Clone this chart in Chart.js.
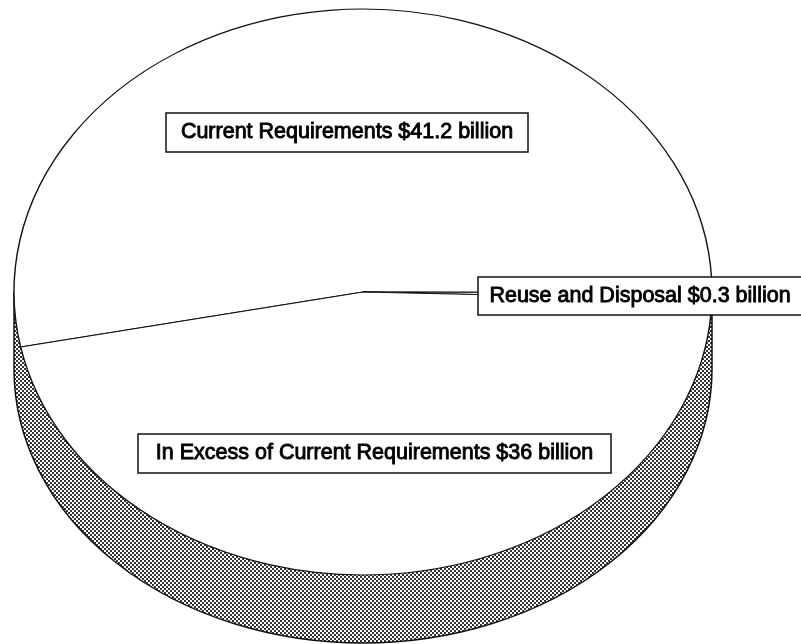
<!DOCTYPE html>
<html>
<head>
<meta charset="utf-8">
<title>Pie</title>
<script src="https://cdn.jsdelivr.net/npm/chart.js@4"></script>
<style>
body { margin: 0; background: #fff; }
canvas { display: block; }
</style>
</head>
<body>
<canvas id="pieChart" width="801" height="644"></canvas>
<script>
var categories = ['Current Requirements', 'Reuse and Disposal', 'In Excess of Current Requirements'];
var values = [41.2, 0.3, 36];
var valueLabels = ['$41.2 billion', '$0.3 billion', '$36 billion'];

// left, top, width, height of the label boxes
var boxes = [[166, 113, 362, 39], [478, 277, 330, 38], [138, 434, 473, 39]];

// the flattened pie and the lower rim of its side wall
var cx = 363, cy = 292, rx = 349, ry = 283;
var rimY = 369, rimRy = 274;
var lineColor = '#111';

function ditherPattern(ctx) {
    var c = document.createElement('canvas');
    c.width = 4;
    c.height = 4;
    var p = c.getContext('2d');
    p.fillStyle = '#fff';
    p.fillRect(0, 0, 4, 4);
    p.fillStyle = '#333';
    p.fillRect(0, 0, 2, 2);
    p.fillRect(2, 2, 2, 2);
    return ctx.createPattern(c, 'repeat');
}

var tiltPlugin = {
    id: 'tilt',
    beforeDatasetsDraw: function(chart) {
        var ctx = chart.ctx;
        var arc = chart.getDatasetMeta(0).data[0];
        // side wall of the pie
        ctx.save();
        ctx.beginPath();
        ctx.moveTo(cx - rx, cy);
        ctx.lineTo(cx - rx, rimY);
        ctx.ellipse(cx, rimY, rx, rimRy, 0, Math.PI, 0, true);
        ctx.lineTo(cx + rx, cy);
        ctx.closePath();
        ctx.fillStyle = ditherPattern(ctx);
        ctx.fill();
        ctx.lineWidth = 1.5;
        ctx.strokeStyle = lineColor;
        ctx.stroke();
        ctx.restore();
        // squash the round pie to the top face
        ctx.save();
        ctx.translate(cx, cy);
        ctx.scale(rx / arc.outerRadius, ry / arc.outerRadius);
        ctx.translate(-arc.x, -arc.y);
    },
    afterDatasetsDraw: function(chart) {
        chart.ctx.restore();
    }
};

var labelPlugin = {
    id: 'boxLabels',
    afterDraw: function(chart) {
        var ctx = chart.ctx;
        ctx.save();
        ctx.font = '21.5px "Liberation Sans"';
        ctx.textBaseline = 'middle';
        ctx.textAlign = 'center';
        for (var i = 0; i < categories.length; i++) {
            var b = boxes[i];
            ctx.fillStyle = '#fff';
            ctx.strokeStyle = lineColor;
            ctx.lineWidth = 1.5;
            ctx.fillRect(b[0], b[1], b[2], b[3]);
            ctx.strokeRect(b[0], b[1], b[2], b[3]);
            var text = categories[i] + ' ' + valueLabels[i];
            var x = i == 1 ? 640 : b[0] + b[2] / 2;
            ctx.fillStyle = '#000';
            ctx.strokeStyle = '#000';
            ctx.lineWidth = 0.9;
            ctx.fillText(text, x, b[1] + b[3] / 2);
            ctx.strokeText(text, x, b[1] + b[3] / 2);
        }
        ctx.restore();
    }
};

var context = document.getElementById('pieChart').getContext('2d');
var myChart = new Chart(context, {
    type: 'pie',
    data: {
        labels: categories,
        datasets: [{
            data: values,
            backgroundColor: '#fff',
            borderColor: lineColor,
            borderWidth: 1.3,
            borderJoinStyle: 'bevel'
        }]
    },
    options: {
        responsive: false,
        animation: false,
        rotation: 258.8,
        plugins: {
            legend: { display: false },
            tooltip: { enabled: false }
        }
    },
    plugins: [tiltPlugin, labelPlugin]
});
</script>
</body>
</html>
